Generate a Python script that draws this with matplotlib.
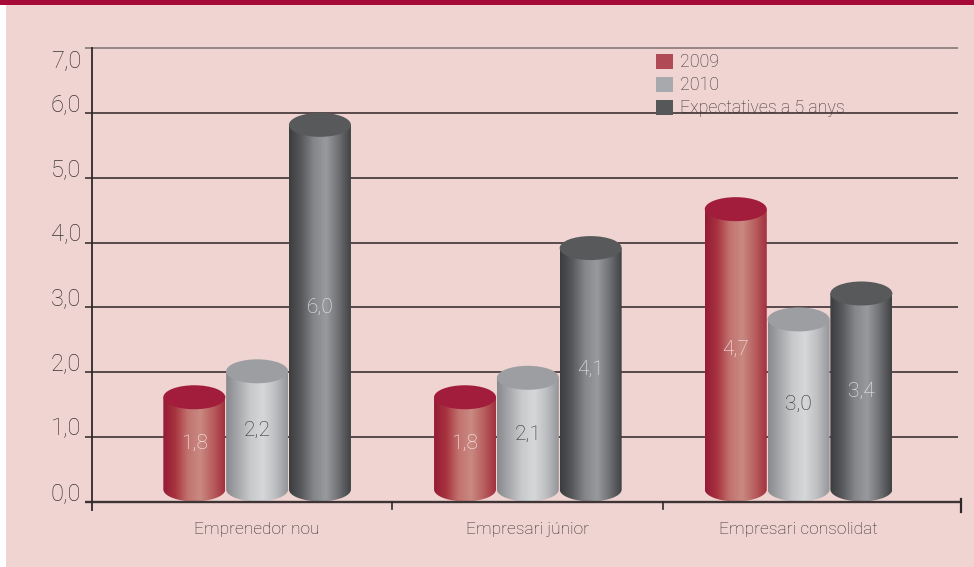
import numpy as np
import matplotlib
matplotlib.use("Agg")
import matplotlib.pyplot as plt
from matplotlib.patches import Rectangle, Ellipse, Patch, Polygon
from matplotlib.colors import LinearSegmentedColormap

categories = ["Emprenedor nou", "Empresari júnior", "Empresari consolidat"]
series_names = ["2009", "2010", "Expectatives a 5 anys"]
values_2009 = [1.8, 1.8, 4.7]
values_2010 = [2.2, 2.1, 3.0]
values_exp = [6.0, 4.1, 3.4]
value_labels_2009 = ["1,8", "1,8", "4,7"]
value_labels_2010 = ["2,2", "2,1", "3,0"]
value_labels_exp = ["6,0", "4,1", "3,4"]
yticks = [0, 1, 2, 3, 4, 5, 6, 7]
ytick_labels = ["0,0", "1,0", "2,0", "3,0", "4,0", "5,0", "6,0", "7,0"]

plt.rcParams['font.family'] = ['Roboto', 'DejaVu Sans']
FW = 'light'

W, H = 974, 567
fig = plt.figure(figsize=(W / 100, H / 100), dpi=100, facecolor='white')
PINK = '#efd4d1'
fig.patches.append(Rectangle((6 / W, 0), 1 - 6 / W, 1, transform=fig.transFigure,
                             facecolor=PINK, edgecolor='none', zorder=-10))
fig.patches.append(Rectangle((0, 1 - 5 / H), 1, 5 / H, transform=fig.transFigure,
                             facecolor='#a50a38', edgecolor='none', zorder=-9))

ax_left, ax_right = 92 / W, 961 / W
ax_bottom, ax_top = 1 - 502 / H, 1 - 48 / H
ax = fig.add_axes([ax_left, ax_bottom, ax_right - ax_left, ax_top - ax_bottom])
ax.set_facecolor('none')
for s in ax.spines.values():
    s.set_visible(False)
ax.set_xticks([])
ax.set_yticks([])

xmin, xmax = -0.61, 2.60
ymin, ymax = 0.0, 7.0
ppu = (502 - 48) / 7.0

grid_dark = '#45393b'
for t in yticks[1:]:
    c = '#8c7c7c' if t == 7 else grid_dark
    ax.plot([xmin - 0.026, xmax - 0.01], [t, t], color=c, lw=1.25, clip_on=False, zorder=1,
            solid_capstyle='butt')
ax.plot([xmin - 0.026, xmax], [0, 0], color='#3e3436', lw=1.7, clip_on=False, zorder=6,
        solid_capstyle='butt')
ax.plot([xmin, xmin], [7.0, -8 / ppu], color='#2e2829', lw=1.3, clip_on=False, zorder=6)
for xb in [0.5, 1.5]:
    ax.plot([xb, xb], [0, -7 / ppu], color='#2e2829', lw=1.2, clip_on=False, zorder=6)
ax.plot([xmax, xmax], [0.05, -10 / ppu], color='#2e2829', lw=1.6, clip_on=False, zorder=6)

TXT = '#3a3335'
for t, lab in zip(yticks, ytick_labels):
    if t == 7:
        ax.text(xmin - 0.04, t - 1 / ppu, lab, ha='right', va='top', fontsize=17,
                color=TXT, fontweight=FW)
    else:
        ax.text(xmin - 0.04, t + 2 / ppu, lab, ha='right', va='baseline', fontsize=17,
                color=TXT, fontweight=FW)

for i, cat in enumerate(categories):
    ax.text(i, -0.43, cat, ha='center', va='center', fontsize=12.5, color='#2e292a',
            fontweight=FW)

cmaps = [
    LinearSegmentedColormap.from_list('r', ['#951a35', '#a7343f', '#c27270', '#c98a82', '#b9605f', '#a2303e']),
    LinearSegmentedColormap.from_list('g', ['#88898c', '#a8a9ac', '#c9cacc', '#d6d7d9', '#bdbec1', '#949598']),
    LinearSegmentedColormap.from_list('d', ['#3b3c3e', '#58595c', '#85868a', '#999a9d', '#707174', '#404143']),
]
top_colors = ['#a21c3b', '#9d9ea2', '#58595b']
label_colors = ['#fbeeee', '#333132', '#ececec']
all_vals = [values_2009, values_2010, values_exp]
all_labs = [value_labels_2009, value_labels_2010, value_labels_exp]

bw = 0.229
offsets = [-0.232, 0.0, 0.232]
eh = 12 / ppu
grad = np.linspace(0, 1, 256).reshape(1, -1)
tt = np.linspace(0, -np.pi, 60)

for s in range(3):
    for i in range(3):
        v = all_vals[s][i]
        xc = i + offsets[s]
        x0, x1 = xc - bw / 2, xc + bw / 2
        yb = eh + 0.01
        yt = v - eh
        ex = xc + (bw / 2) * np.cos(tt)
        ey = yb + eh * np.sin(tt)
        pts = [(x0, yt), (x1, yt)] + list(zip(ex, ey))
        poly = Polygon(pts, closed=True, facecolor='none', edgecolor='none')
        ax.add_patch(poly)
        im = ax.imshow(grad, cmap=cmaps[s], extent=(x0, x1, yb - eh, yt),
                       aspect='auto', zorder=3, interpolation='bicubic')
        im.set_clip_path(poly)
        ax.add_patch(Ellipse((xc, yt), bw, 2 * eh, facecolor=top_colors[s],
                             edgecolor='none', zorder=4))
        ax.text(xc, v / 2, all_labs[s][i], ha='center', va='center', fontsize=15,
                color=label_colors[s], zorder=5, fontweight=FW)

ax.set_xlim(xmin, xmax)
ax.set_ylim(ymin, ymax)

legend_colors = ['#b04a55', '#a8a9ad', '#555759']
handles = [Patch(facecolor=c, edgecolor='none') for c in legend_colors]
leg = fig.legend(handles, series_names, loc='upper left',
                 bbox_to_anchor=(644 / W, 1 - 41 / H), frameon=False,
                 prop={'size': 12.8, 'weight': FW},
                 handlelength=0.95, handleheight=0.95,
                 handletextpad=0.4, labelspacing=0.28, borderpad=0.2)
for t in leg.get_texts():
    t.set_color(TXT)

fig.savefig('out.png', dpi=100, facecolor=fig.get_facecolor())
